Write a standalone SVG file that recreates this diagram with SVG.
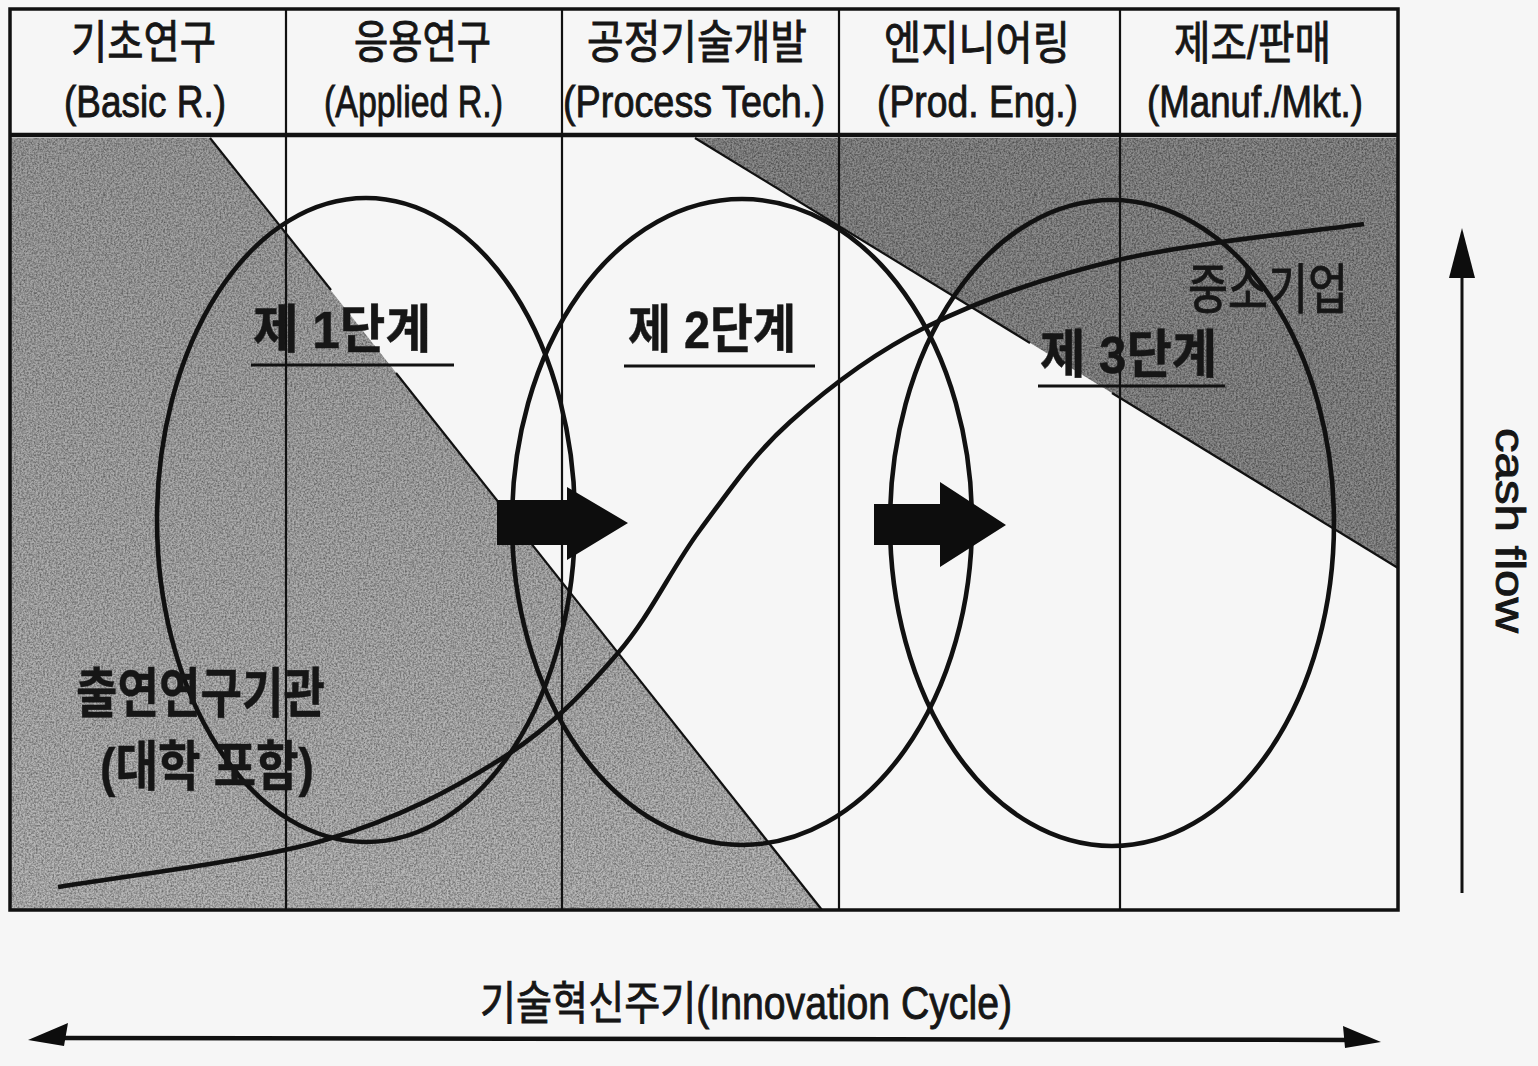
<svg xmlns="http://www.w3.org/2000/svg" width="1538" height="1066" viewBox="0 0 1538 1066">
<defs>
<style>
.k{font-family:"Liberation Sans","Noto Sans CJK KR",sans-serif;fill:#161616;stroke:#161616;stroke-width:0.9px}
.hk{font-size:46px}
.he{font-size:44px}
.st{font-size:52px;font-weight:700;stroke-width:0.5px}
.lb{font-size:54px}
.thin{stroke:#111;stroke-width:2.2;fill:none}
.frame{stroke:#111;stroke-width:3.5;fill:none}
.ell{stroke:#111;stroke-width:4.6;fill:none}
.ul{stroke:#111;stroke-width:3.2}
.blk{fill:#0d0d0d}
</style>
<linearGradient id="gl" x1="0" y1="0" x2="0" y2="1">
<stop offset="0" stop-color="#a0a0a0"/><stop offset="1" stop-color="#b9b9b9"/>
</linearGradient>
<filter id="grain" x="0" y="0" width="1" height="1">
<feTurbulence type="fractalNoise" baseFrequency="0.55" numOctaves="3" seed="4" result="n"/>
<feColorMatrix in="n" type="matrix" values="0 0 0 0 0  0 0 0 0 0  0 0 0 0 0  0 0 0 1.8 -0.6" result="a"/>
<feComposite in="a" in2="SourceAlpha" operator="in"/>
</filter>
</defs>

<rect x="0" y="0" width="1538" height="1066" fill="#f6f6f6"/>

<g id="region-public">
<polygon points="10,138 210,138 822,910 10,910" fill="url(#gl)"/>
<polygon points="10,138 210,138 822,910 10,910" fill="#000" filter="url(#grain)" opacity="0.45"/>
</g>
<g id="region-sme">
<polygon points="695,138 1398,138 1398,568" fill="#8c8c8c"/>
<polygon points="695,138 1398,138 1398,568" fill="#000" filter="url(#grain)" opacity="0.5"/>
</g>

<g id="grid">
<rect x="10" y="9" width="1388" height="901" class="frame"/>
<line x1="10" y1="135" x2="1398" y2="135" stroke="#111" stroke-width="4.5"/>
<line x1="286" y1="9" x2="286" y2="910" class="thin"/>
<line x1="562" y1="9" x2="562" y2="910" class="thin"/>
<line x1="839" y1="9" x2="839" y2="910" class="thin"/>
<line x1="1120" y1="9" x2="1120" y2="910" class="thin"/>
</g>

<g id="header">
<text class="k hk" x="71" y="58" textLength="145" lengthAdjust="spacingAndGlyphs">기초연구</text>
<text class="k hk" x="354" y="58" textLength="137" lengthAdjust="spacingAndGlyphs">응용연구</text>
<text class="k hk" x="587" y="58" textLength="220" lengthAdjust="spacingAndGlyphs">공정기술개발</text>
<text class="k hk" x="884" y="59" textLength="186" lengthAdjust="spacingAndGlyphs">엔지니어링</text>
<text class="k hk" x="1174" y="59" textLength="157" lengthAdjust="spacingAndGlyphs">제조/판매</text>
<text class="k he" x="64" y="117" textLength="162" lengthAdjust="spacingAndGlyphs">(Basic R.)</text>
<text class="k he" x="324" y="117" textLength="179" lengthAdjust="spacingAndGlyphs">(Applied R.)</text>
<text class="k he" x="563" y="117" textLength="262" lengthAdjust="spacingAndGlyphs">(Process Tech.)</text>
<text class="k he" x="877" y="117" textLength="201" lengthAdjust="spacingAndGlyphs">(Prod. Eng.)</text>
<text class="k he" x="1147" y="117" textLength="216" lengthAdjust="spacingAndGlyphs">(Manuf./Mkt.)</text>
</g>

<g id="diagonals">
<line x1="210" y1="138" x2="331" y2="290" class="thin"/>
<line x1="396" y1="373" x2="822" y2="910" class="thin"/>
<line x1="695" y1="138" x2="1030" y2="343" class="thin"/>
<line x1="1112" y1="393" x2="1398" y2="568" class="thin"/>
</g>

<g id="stage1"><ellipse cx="366" cy="520" rx="209" ry="322" class="ell"/></g>
<g id="stage2"><ellipse cx="742" cy="522" rx="230" ry="323" class="ell"/></g>
<g id="stage3"><ellipse cx="1112" cy="523" rx="222" ry="323" class="ell"/></g>

<g id="cash-curve">
<path class="ell" d="M58,887 C102.5,879.2 250.7,861.7 325,840 C399.3,818.3 455.2,788.2 504,757 C552.8,725.8 585.3,690.8 618,653 C650.7,615.2 671.3,568.5 700,530 C728.7,491.5 752.3,455.8 790,422 C827.7,388.2 871.3,354 926,327 C980.7,300 1045,277.2 1118,260 C1191,242.8 1323,230 1364,224"/>
</g>

<g id="labels">
<text class="k st" x="253" y="348" textLength="178" lengthAdjust="spacingAndGlyphs">제 1단계</text>
<line x1="251" y1="365" x2="454" y2="365" class="ul"/>
<text class="k st" x="628" y="348" textLength="168" lengthAdjust="spacingAndGlyphs">제 2단계</text>
<line x1="624" y1="366" x2="815" y2="366" class="ul"/>
<text class="k st" x="1040" y="373" textLength="177" lengthAdjust="spacingAndGlyphs">제 3단계</text>
<line x1="1038" y1="386" x2="1225" y2="386" class="ul"/>
<text class="k lb" x="1188" y="309" textLength="160" lengthAdjust="spacingAndGlyphs">중소기업</text>
<text class="k lb" x="76" y="713" font-weight="700" style="stroke-width:0.4px" textLength="249" lengthAdjust="spacingAndGlyphs">출연연구기관</text>
<text class="k lb" x="100" y="786" font-weight="700" style="stroke-width:0.4px" textLength="214" lengthAdjust="spacingAndGlyphs">(대학 포함)</text>
</g>

<g id="connectors">
<polygon class="blk" points="497,500 567,500 567,487 628,523 567,560 567,545 497,545"/>
<polygon class="blk" points="874,504 940,504 940,482 1006,525 940,567 940,545 874,545"/>
<line x1="1462" y1="272" x2="1462" y2="893" stroke="#111" stroke-width="3"/>
<polygon class="blk" points="1462,228 1475,278 1449,278"/>
<line x1="55" y1="1038" x2="1355" y2="1040" stroke="#111" stroke-width="4.5"/>
<polygon class="blk" points="28,1040 68,1023 64,1046"/>
<polygon class="blk" points="1381,1042 1343,1026 1345,1048"/>
</g>

<g id="axis-labels">
<text class="k" font-size="40" transform="translate(1496,428) rotate(90)" x="0" y="0" textLength="205" lengthAdjust="spacingAndGlyphs">cash flow</text>
<text class="k" font-size="46" x="480" y="1019" textLength="532" lengthAdjust="spacingAndGlyphs">기술혁신주기(Innovation Cycle)</text>
</g>
</svg>
